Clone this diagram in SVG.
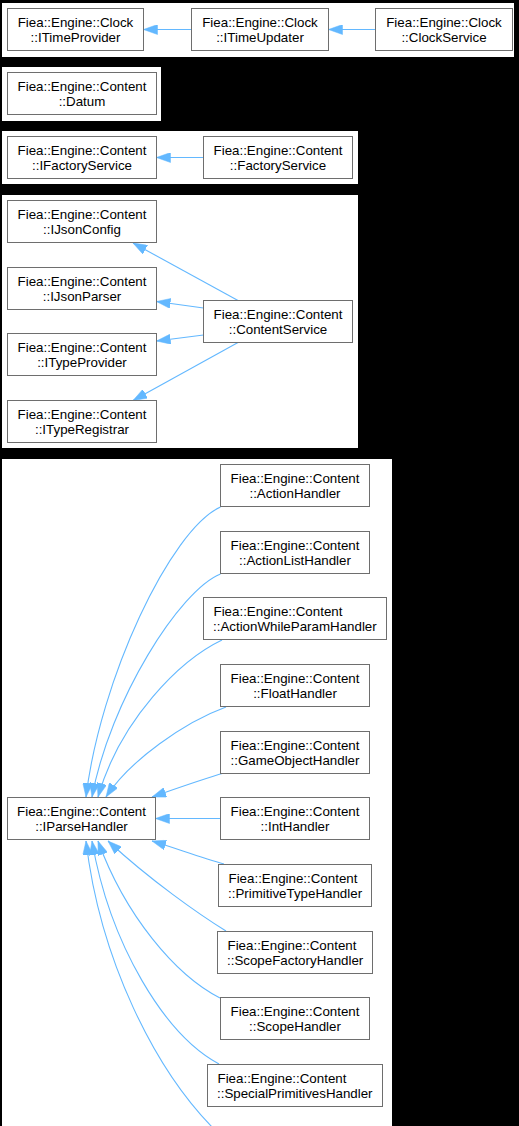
<svg xmlns="http://www.w3.org/2000/svg" width="519" height="1126" viewBox="0 0 519 1126">
<style>
.panel{fill:#ffffff;stroke:none}
.node rect{fill:#ffffff;stroke:#6e6e6e;stroke-width:1}
.node text{font-family:"Liberation Sans",Arial,sans-serif;font-size:13.33px;fill:#000000}
.c{text-anchor:middle}
.l{text-anchor:start}
.edge{fill:none;stroke:#63b8ff;stroke-width:1.1;marker-end:url(#arrow)}
</style>
<defs>
<marker id="arrow" markerUnits="userSpaceOnUse" markerWidth="14" markerHeight="10" viewBox="0 0 14 10" refX="14" refY="5" orient="auto">
<path d="M0,0 L14,5 L0,10 z" fill="#63b8ff" stroke="#63b8ff" stroke-width="0.5"/>
</marker>
</defs>
<rect x="0" y="0" width="519" height="1126" fill="#000000"/>
<g id="panels">
<rect class="panel" x="2" y="3" width="512" height="54"/>
<rect class="panel" x="2" y="67" width="159" height="54"/>
<rect class="panel" x="2" y="131" width="356" height="53"/>
<rect class="panel" x="2" y="195" width="356" height="253"/>
<rect class="panel" x="2" y="459" width="390" height="667"/>
</g>
<g id="connectors">
<path class="edge" d="M191.5,29.5 L143.5,29.5"/>
<path class="edge" d="M375.5,29.5 L328.5,29.5"/>
<path class="edge" d="M203.5,157.5 L156.5,157.5"/>
<path class="edge" d="M238,300.5 L133,243"/>
<path class="edge" d="M203.5,308 L156.5,301.5"/>
<path class="edge" d="M203.5,335 L156.5,341"/>
<path class="edge" d="M238,342.5 L133,400.5"/>
<path class="edge" d="M220.5,507 C170,530 100,680 86,797"/>
<path class="edge" d="M220.5,574 C180,590 110,700 92,797"/>
<path class="edge" d="M222,640 C180,660 120,720 98,797"/>
<path class="edge" d="M226,707 C185,722 130,760 106,797"/>
<path class="edge" d="M224,773 C200,780 175,789 152,797"/>
<path class="edge" d="M220.5,818.5 L155.5,818.5"/>
<path class="edge" d="M224,864 C200,857 175,848 152,841"/>
<path class="edge" d="M226,931 C200,915 150,880 108,841"/>
<path class="edge" d="M220,998 C175,975 125,915 98,841"/>
<path class="edge" d="M219,1064 C165,1035 110,945 92,841"/>
<path class="edge" d="M215,1130 C155,1070 100,960 86,841"/>
</g>
<g id="ITimeProvider" class="node"><rect x="7.5" y="8.5" width="136" height="42"/><text class="c" x="75.5" y="26.5">Fiea::Engine::Clock</text><text class="c" x="75.5" y="41.5">::ITimeProvider</text></g>
<g id="ITimeUpdater" class="node"><rect x="191.5" y="8.5" width="137" height="42"/><text class="c" x="260" y="26.5">Fiea::Engine::Clock</text><text class="c" x="260" y="41.5">::ITimeUpdater</text></g>
<g id="ClockService" class="node"><rect x="375.5" y="8.5" width="137" height="42"/><text class="c" x="444" y="26.5">Fiea::Engine::Clock</text><text class="c" x="444" y="41.5">::ClockService</text></g>
<g id="Datum" class="node"><rect x="7.5" y="72.5" width="149" height="42"/><text class="c" x="82" y="90.5">Fiea::Engine::Content</text><text class="c" x="82" y="105.5">::Datum</text></g>
<g id="IFactoryService" class="node"><rect x="7.5" y="136.5" width="149" height="42"/><text class="c" x="82" y="154.5">Fiea::Engine::Content</text><text class="c" x="82" y="169.5">::IFactoryService</text></g>
<g id="FactoryService" class="node"><rect x="203.5" y="136.5" width="149" height="42"/><text class="c" x="278" y="154.5">Fiea::Engine::Content</text><text class="c" x="278" y="169.5">::FactoryService</text></g>
<g id="IJsonConfig" class="node"><rect x="7.5" y="200.5" width="149" height="42"/><text class="c" x="82" y="218.5">Fiea::Engine::Content</text><text class="c" x="82" y="233.5">::IJsonConfig</text></g>
<g id="IJsonParser" class="node"><rect x="7.5" y="267.5" width="149" height="42"/><text class="c" x="82" y="285.5">Fiea::Engine::Content</text><text class="c" x="82" y="300.5">::IJsonParser</text></g>
<g id="ITypeProvider" class="node"><rect x="7.5" y="333.5" width="149" height="42"/><text class="c" x="82" y="351.5">Fiea::Engine::Content</text><text class="c" x="82" y="366.5">::ITypeProvider</text></g>
<g id="ITypeRegistrar" class="node"><rect x="7.5" y="400.5" width="149" height="42"/><text class="c" x="82" y="418.5">Fiea::Engine::Content</text><text class="c" x="82" y="433.5">::ITypeRegistrar</text></g>
<g id="ContentService" class="node"><rect x="203.5" y="300.5" width="149" height="42"/><text class="c" x="278" y="318.5">Fiea::Engine::Content</text><text class="c" x="278" y="333.5">::ContentService</text></g>
<g id="ActionHandler" class="node"><rect x="220.5" y="464.5" width="149" height="42"/><text class="c" x="295" y="482.5">Fiea::Engine::Content</text><text class="c" x="295" y="497.5">::ActionHandler</text></g>
<g id="ActionListHandler" class="node"><rect x="220.5" y="531.5" width="149" height="42"/><text class="c" x="295" y="549.5">Fiea::Engine::Content</text><text class="c" x="295" y="564.5">::ActionListHandler</text></g>
<g id="ActionWhileParamHandler" class="node"><rect x="203.5" y="597.5" width="183" height="42"/><text class="l" x="213.5" y="615.5">Fiea::Engine::Content</text><text class="l" x="213" y="630.5">::ActionWhileParamHandler</text></g>
<g id="FloatHandler" class="node"><rect x="220.5" y="664.5" width="149" height="42"/><text class="c" x="295" y="682.5">Fiea::Engine::Content</text><text class="c" x="295" y="697.5">::FloatHandler</text></g>
<g id="GameObjectHandler" class="node"><rect x="220.5" y="731.5" width="149" height="42"/><text class="c" x="295" y="749.5">Fiea::Engine::Content</text><text class="c" x="295" y="764.5">::GameObjectHandler</text></g>
<g id="IntHandler" class="node"><rect x="220.5" y="797.5" width="149" height="42"/><text class="c" x="295" y="815.5">Fiea::Engine::Content</text><text class="c" x="295" y="830.5">::IntHandler</text></g>
<g id="PrimitiveTypeHandler" class="node"><rect x="218.5" y="864.5" width="153" height="42"/><text class="l" x="228.5" y="882.5">Fiea::Engine::Content</text><text class="l" x="228" y="897.5">::PrimitiveTypeHandler</text></g>
<g id="ScopeFactoryHandler" class="node"><rect x="217.5" y="931.5" width="155" height="42"/><text class="l" x="227.5" y="949.5">Fiea::Engine::Content</text><text class="l" x="227" y="964.5">::ScopeFactoryHandler</text></g>
<g id="ScopeHandler" class="node"><rect x="220.5" y="997.5" width="149" height="42"/><text class="c" x="295" y="1015.5">Fiea::Engine::Content</text><text class="c" x="295" y="1030.5">::ScopeHandler</text></g>
<g id="SpecialPrimitivesHandler" class="node"><rect x="207.5" y="1064.5" width="175" height="42"/><text class="l" x="217.5" y="1082.5">Fiea::Engine::Content</text><text class="l" x="217" y="1097.5">::SpecialPrimitivesHandler</text></g>
<g id="IParseHandler" class="node"><rect x="7.5" y="797.5" width="148" height="42"/><text class="c" x="81.5" y="815.5">Fiea::Engine::Content</text><text class="c" x="81.5" y="830.5">::IParseHandler</text></g>
</svg>
